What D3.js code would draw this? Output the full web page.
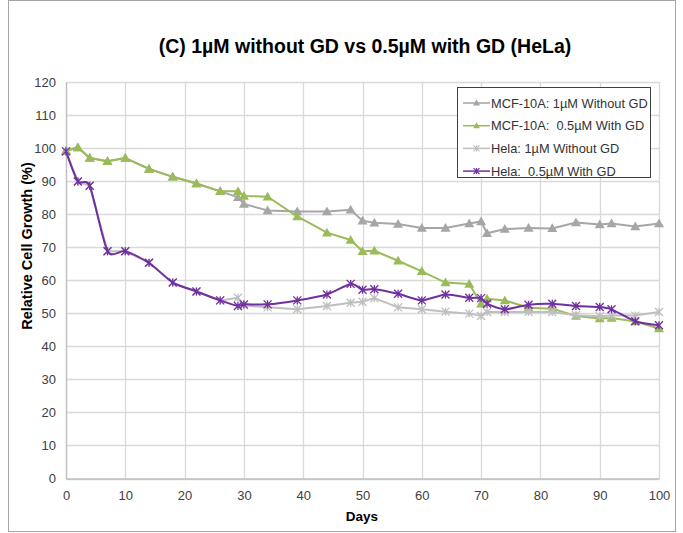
<!DOCTYPE html>
<html><head><meta charset="utf-8">
<script src="https://cdn.jsdelivr.net/npm/d3@7"></script>
<style>body{margin:0;background:#fff;}svg{display:block;font-family:"Liberation Sans",Arial,sans-serif;}</style>
</head><body><svg id="c" width="683" height="533"></svg>
<script>
const days = [0,2,4,7,10,14,18,22,26,29,30,34,39,44,48,50,52,56,60,64,68,70,71,74,78,82,86,90,92,96,100];
const mcfWithout = [99.2,100.2,97,96,97,93.7,91.3,89.3,86.9,85.1,83.1,81.1,80.8,80.8,81.3,78,77.4,77,75.8,75.8,77.2,77.8,74.2,75.5,75.8,75.7,77.5,76.9,77.2,76.3,77.2];
const mcfWith = [99.2,100.2,97,96,97,93.7,91.3,89.3,86.9,86.9,85.5,85.3,79.3,74.4,72.2,68.8,68.9,65.9,62.7,59.3,58.9,52.9,54.4,53.9,51.7,51.4,49.2,48.4,48.6,47.5,45.4];
const helaWithout = [99,89.9,88.6,68.8,68.8,65.3,59.3,56.6,53.9,54.7,52.4,51.8,51.2,52.2,53.2,53.5,54.6,51.8,51.2,50.5,49.9,49.2,50.4,50.4,50.4,50.4,49.4,49.1,49.3,49.3,50.4];
const helaWith = [99,89.9,88.6,68.8,68.8,65.3,59.3,56.6,53.9,52.2,52.7,52.7,53.9,55.7,58.9,57.1,57.3,55.9,53.9,55.7,54.7,54.6,52.9,51.2,52.6,52.9,52.2,51.9,51.2,47.6,46.4];
const seriesNames = ["MCF-10A: 1\u00b5M Without GD","MCF-10A:  0.5\u00b5M With GD","Hela: 1\u00b5M Without GD","Hela:  0.5\u00b5M With GD"];
const xTicks = [0,10,20,30,40,50,60,70,80,90,100];
const yTicks = [0,10,20,30,40,50,60,70,80,90,100,110,120];

const series = [
  {name:seriesNames[0], vals:mcfWithout, color:"#a6a6a6", marker:"tri", smooth:false},
  {name:seriesNames[1], vals:mcfWith, color:"#9bbb59", marker:"tri", smooth:false},
  {name:seriesNames[2], vals:helaWithout, color:"#bfbfbf", marker:"star", smooth:false},
  {name:seriesNames[3], vals:helaWith, color:"#7030a0", marker:"star", smooth:true}
];

const svg = d3.select("#c");
svg.append("rect").attr("x",8.5).attr("y",0.5).attr("width",667).attr("height",531).attr("fill","#fff").attr("stroke","#a6a6a6");

const x = d3.scaleLinear().domain([0,100]).range([66,659]);
const y = d3.scaleLinear().domain([0,120]).range([478.5,82]);

// grid
svg.append("g").selectAll("line").data(yTicks).join("line")
  .attr("x1",66).attr("x2",659).attr("y1",d=>Math.round(y(d))+0.5).attr("y2",d=>Math.round(y(d))+0.5)
  .attr("stroke","#d9d9d9").attr("stroke-width",1.3);
svg.append("g").selectAll("line").data(xTicks).join("line")
  .attr("y1",82).attr("y2",478.5).attr("x1",d=>Math.round(x(d))+0.5).attr("x2",d=>Math.round(x(d))+0.5)
  .attr("stroke","#d9d9d9").attr("stroke-width",1.3);

// axes
const yAxis = svg.append("g").attr("transform","translate(66,0)").call(d3.axisLeft(y).tickValues(yTicks).tickSize(0).tickPadding(10));
const xAxis = svg.append("g").attr("transform","translate(0,478.5)").call(d3.axisBottom(x).tickValues(xTicks).tickSize(0).tickPadding(12));
[yAxis,xAxis].forEach(a=>{
  a.select(".domain").attr("stroke","#bfbfbf").attr("stroke-width",1.3);
  a.selectAll("text").attr("font-size",13).attr("fill","#404040").attr("font-family","Liberation Sans, Arial, sans-serif");
});

function drawMarker(g,cx,cy,s){
  if(s.marker==="tri"){
    const r=5;
    g.append("path").attr("d",`M${cx},${cy-r}L${cx+r},${cy+r*0.75}L${cx-r},${cy+r*0.75}Z`).attr("fill",s.color);
  } else {
    const r=4;
    g.append("path").attr("d",`M${cx-r},${cy-r}L${cx+r},${cy+r}M${cx-r},${cy+r}L${cx+r},${cy-r}M${cx},${cy-r}L${cx},${cy+r}`)
      .attr("stroke",s.color).attr("stroke-width",1.3).attr("fill","none");
  }
}

// lines
series.forEach(s=>{
  const ln = d3.line().x((d,i)=>x(days[i])).y(d=>y(d));
  if(s.smooth) ln.curve(d3.curveCardinal.tension(0.3));
  svg.append("path").datum(s.vals).attr("d", ln)
    .attr("fill","none").attr("stroke",s.color).attr("stroke-width",2);
  const g = svg.append("g");
  s.vals.forEach((v,i)=>drawMarker(g, x(days[i]), y(v), s));
});

// titles
svg.append("text").attr("x",365).attr("y",53).attr("text-anchor","middle").attr("font-size",19.5).attr("font-weight","bold").attr("fill","#000")
  .text("(C) 1\u00b5M without GD vs 0.5\u00b5M with GD (HeLa)");
svg.append("text").attr("transform","translate(32,246) rotate(-90)").attr("text-anchor","middle").attr("font-size",14.5).attr("font-weight","bold").attr("fill","#000")
  .text("Relative Cell Growth (%)");
svg.append("text").attr("x",362).attr("y",521).attr("text-anchor","middle").attr("font-size",13.5).attr("font-weight","bold").attr("fill","#000").text("Days");

// legend
const lg = svg.append("g");
lg.append("rect").attr("x",457.5).attr("y",87.5).attr("width",193).attr("height",90).attr("fill","#fff").attr("stroke","#404040").attr("stroke-width",1);
series.forEach((s,i)=>{
  const ly = 103 + i*22.7;
  lg.append("line").attr("x1",463).attr("x2",490).attr("y1",ly).attr("y2",ly).attr("stroke",s.color).attr("stroke-width",1.5);
  if(s.marker==="tri"){
    lg.append("path").attr("d",`M${476.5},${ly-3.5}L${480},${ly+2.5}L${473},${ly+2.5}Z`).attr("fill",s.color);
  } else {
    const r=3, cx=476.5;
    lg.append("path").attr("d",`M${cx-r},${ly-r}L${cx+r},${ly+r}M${cx-r},${ly+r}L${cx+r},${ly-r}M${cx},${ly-r}L${cx},${ly+r}`).attr("stroke",s.color).attr("stroke-width",1.2);
  }
  lg.append("text").attr("x",491).attr("y",ly+4.5).attr("font-size",12.8).attr("fill","#333").style("white-space","pre").text(s.name);
});
</script></body></html>
